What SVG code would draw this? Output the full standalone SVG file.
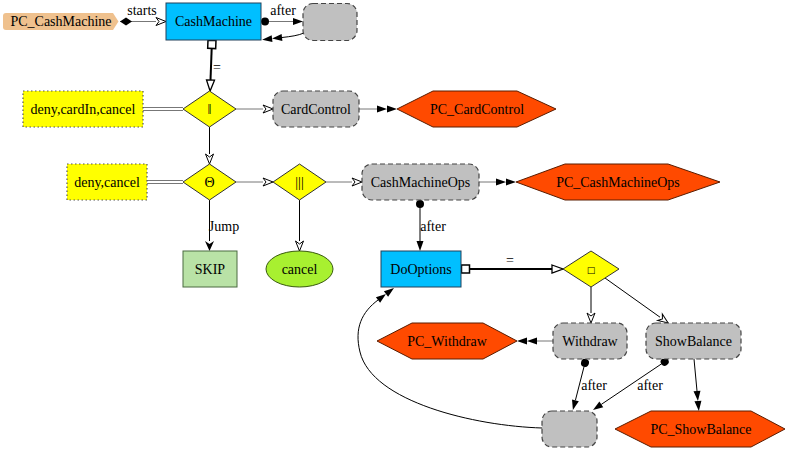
<svg xmlns="http://www.w3.org/2000/svg" width="790" height="451" viewBox="0 0 790 451">
<style>
text{font-family:"Liberation Serif","Times New Roman",serif;font-size:14px;fill:#000;text-anchor:middle}
.e{fill:none;stroke:#000;stroke-width:1}
.g{fill:none;stroke:#777;stroke-width:1}
.thick{stroke-width:2}
.blue{fill:#00BFFF;stroke:#23415a;stroke-width:1}
.grey{fill:#C0C0C0;stroke:#444;stroke-width:1.2;stroke-dasharray:5,3}
.yel{fill:#FFFF00;stroke:#555;stroke-width:1.2;stroke-dasharray:1.5,2.5}
.dia{fill:#FFFF00;stroke:#333;stroke-width:1}
.pc{fill:#FF4A00;stroke:#5a1c00;stroke-width:1}
</style>
<defs>
<marker id="arr" markerUnits="userSpaceOnUse" markerWidth="1" markerHeight="1" refX="0" refY="0" orient="auto" overflow="visible"><path d="M0,-3.5 L10,0 L0,3.5 z" fill="#000"/></marker>
<marker id="vee" markerUnits="userSpaceOnUse" markerWidth="1" markerHeight="1" refX="0" refY="0" orient="auto" overflow="visible"><path d="M0,-4.5 L10,0 L0,4.5 L3,0 z" fill="#000"/></marker>
<marker id="arr2" markerUnits="userSpaceOnUse" markerWidth="1" markerHeight="1" refX="0" refY="0" orient="auto" overflow="visible"><path d="M0,-3.5 L10,0 L0,3.5 z M10,-3.5 L20,0 L10,3.5 z" fill="#000"/></marker>
<marker id="ovee" markerUnits="userSpaceOnUse" markerWidth="1" markerHeight="1" refX="0" refY="0" orient="auto" overflow="visible"><path d="M0,-4 L10,0 L0,4 L3,0 z" fill="#fff" stroke="#000" stroke-width="1"/></marker>
<marker id="onormal" markerUnits="userSpaceOnUse" markerWidth="1" markerHeight="1" refX="0" refY="0" orient="auto" overflow="visible"><path d="M0,-4 L11,0 L0,4 z" fill="#fff" stroke="#000" stroke-width="1.3"/></marker>
<marker id="dot" markerUnits="userSpaceOnUse" markerWidth="1" markerHeight="1" refX="0" refY="0" orient="auto" overflow="visible"><circle cx="4" cy="0" r="4" fill="#000"/></marker>
<marker id="box" markerUnits="userSpaceOnUse" markerWidth="1" markerHeight="1" refX="0" refY="0" orient="auto" overflow="visible"><rect x="0.5" y="-4" width="8" height="8" fill="#fff" stroke="#000" stroke-width="1.5"/></marker>
<marker id="diam" markerUnits="userSpaceOnUse" markerWidth="1" markerHeight="1" refX="0" refY="0" orient="auto" overflow="visible"><path d="M0,0 L6,-4 L12,0 L6,4 z" fill="#000"/></marker>
</defs>

<g id="connectors">
<path class="g" d="M120,21.5 L156,21.5" marker-start="url(#diam)" marker-end="url(#ovee)"/>
<text x="142" y="15">starts</text>
<path class="g" d="M261,21.5 L293,21.5" marker-start="url(#dot)" marker-end="url(#arr)"/>
<text x="283" y="15">after</text>
<path class="e" d="M304,33 C298,35.5 291,36.5 282,37.5" marker-end="url(#arr2)"/>
<path class="e thick" d="M212,40 L210.5,80" marker-start="url(#box)" marker-end="url(#onormal)"/>
<text x="217" y="72">=</text>
<path class="g" d="M143,107.5 L183,107.5 M143,110.5 L183,110.5"/>
<path class="g" d="M236,109 L263,109" marker-end="url(#ovee)"/>
<path class="g" d="M359,109 L377,109" marker-end="url(#arr2)"/>
<path class="e" d="M209.5,127 L209.5,154" marker-end="url(#ovee)"/>
<path class="g" d="M147,180.5 L183,180.5 M147,183.5 L183,183.5"/>
<path class="g" d="M236,182 L263,182" marker-end="url(#ovee)"/>
<path class="g" d="M326,182 L352,182" marker-end="url(#ovee)"/>
<path class="g" d="M479,182 L496,182" marker-end="url(#arr2)"/>
<path class="e" d="M209.5,200 L209.5,241" marker-end="url(#vee)"/>
<text x="224" y="231">Jump</text>
<path class="e" d="M299.5,200 L299.5,241" marker-end="url(#ovee)"/>
<path class="e" d="M420,200 L420,241" marker-start="url(#dot)" marker-end="url(#arr)"/>
<text x="433" y="231">after</text>
<path class="e thick" d="M461,269 L552,269" marker-start="url(#box)" marker-end="url(#onormal)"/>
<text x="510" y="265">=</text>
<path class="e" d="M591,287 L591,313" marker-end="url(#ovee)"/>
<path class="e" d="M605,278 L660,317.2" marker-end="url(#ovee)"/>
<path class="g" d="M553,341 L537,341" marker-end="url(#arr2)"/>
<path class="e" d="M586,359 L575.4,400.3" marker-start="url(#dot)" marker-end="url(#arr)"/>
<text x="594" y="390">after</text>
<path class="e" d="M668,359.5 L601.3,404.4" marker-start="url(#dot)" marker-end="url(#arr)"/>
<text x="650" y="390">after</text>
<path class="e" d="M694,359 L697,391" marker-end="url(#arr2)"/>
<path class="e" d="M542,428 C475,426 372,402 360,352 C354,328 362,312 378,300" marker-end="url(#arr2)"/>
</g>

<g id="PC_CashMachine">
<path d="M6,13 L113,13 L118.5,21.5 L113,30 L6,30 Q3,30 3,27 L3,16 Q3,13 6,13 z" fill="#EFC18E"/>
<text x="61" y="26">PC_CashMachine</text>
</g>
<g id="CashMachine">
<rect class="blue" x="166" y="3" width="95" height="37"/>
<text x="213.5" y="26">CashMachine</text>
</g>
<g id="after_top">
<rect class="grey" x="303" y="3.5" width="54" height="37" rx="10"/>
</g>
<g id="deny_cardIn_cancel">
<rect class="yel" x="23" y="91" width="120" height="36"/>
<text x="83" y="114">deny,cardIn,cancel</text>
</g>
<g id="par">
<polygon class="dia" points="183,109 209.5,91 236,109 209.5,127"/>
<text x="209.5" y="114">‖</text>
</g>
<g id="CardControl">
<rect class="grey" x="273" y="91" width="86" height="36" rx="10"/>
<text x="316" y="114">CardControl</text>
</g>
<g id="PC_CardControl">
<polygon class="pc" points="397,109 433,91 517,91 556,109 517,127 433,127"/>
<text x="477" y="114">PC_CardControl</text>
</g>
<g id="deny_cancel">
<rect class="yel" x="67" y="164" width="80" height="36"/>
<text x="107" y="187">deny,cancel</text>
</g>
<g id="interrupt">
<polygon class="dia" points="183,182 209.5,164 236,182 209.5,200"/>
<text x="209.5" y="187">Θ</text>
</g>
<g id="interleave">
<polygon class="dia" points="273,182 299.5,164 326,182 299.5,200"/>
<text x="299.5" y="187">|||</text>
</g>
<g id="CashMachineOps">
<rect class="grey" x="362" y="164" width="117" height="36" rx="10"/>
<text x="420.5" y="187">CashMachineOps</text>
</g>
<g id="PC_CashMachineOps">
<polygon class="pc" points="516,182 565,164 668,164 720,182 668,200 565,200"/>
<text x="618" y="187">PC_CashMachineOps</text>
</g>
<g id="SKIP">
<rect x="183" y="251" width="54" height="36" fill="#B9E2A6" stroke="#4a6a40" stroke-width="1"/>
<text x="210" y="274">SKIP</text>
</g>
<g id="cancel">
<ellipse cx="299.5" cy="269" rx="33.5" ry="18" fill="#A8F030" stroke="#3a5a10" stroke-width="1"/>
<text x="299.5" y="274">cancel</text>
</g>
<g id="DoOptions">
<rect class="blue" x="381" y="251" width="80" height="36"/>
<text x="421" y="274">DoOptions</text>
</g>
<g id="choice">
<polygon class="dia" points="563,269 591,251 619,269 591,287"/>
<rect x="587.5" y="265" width="7" height="7" fill="none" stroke="#000" stroke-width="0.8" opacity="0"/>
<text x="591" y="273" style="font-family:'DejaVu Sans',sans-serif;font-size:9px">□</text>
</g>
<g id="Withdraw">
<rect class="grey" x="553" y="323" width="74" height="36" rx="10"/>
<text x="590" y="346">Withdraw</text>
</g>
<g id="PC_Withdraw">
<polygon class="pc" points="377,341 412,323 483,323 517,341 483,359 412,359"/>
<text x="447" y="346">PC_Withdraw</text>
</g>
<g id="ShowBalance">
<rect class="grey" x="646" y="323" width="95" height="36" rx="10"/>
<text x="693.5" y="346">ShowBalance</text>
</g>
<g id="after_bottom">
<rect class="grey" x="542" y="411" width="55" height="36" rx="10"/>
</g>
<g id="PC_ShowBalance">
<polygon class="pc" points="615,429 651,411 751,411 785,429 751,447 651,447"/>
<text x="701" y="434">PC_ShowBalance</text>
</g>
</svg>
